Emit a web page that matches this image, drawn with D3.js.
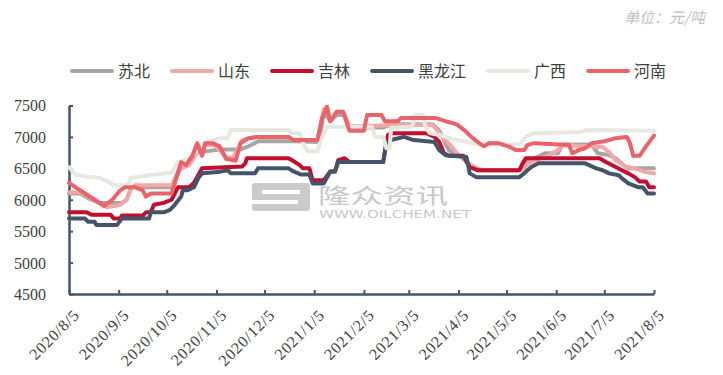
<!DOCTYPE html>
<html>
  <head>
    <meta charset="utf-8" />
    <style>
      body {
        margin: 0;
        background: #fff;
      }
    </style>
  </head>

  <body>
    <svg width="723" height="375"></svg>
  </body>

  <script src="https://d3js.org/d3.v7.min.js"></script>

  <script>
    let width = 723;
    let height = 375;
    let margin = { top: 105.5, right: 69, bottom: 81, left: 69 };

    // 每个地区的价格拐点 [日期, 元/吨]
    let suBei = [
      ["2020-08-05", 6100], ["2020-08-12", 6100], ["2020-08-19", 6000], ["2020-08-24", 5950],
      ["2020-09-07", 5950], ["2020-09-10", 6000], ["2020-09-13", 6200], ["2020-10-08", 6200],
      ["2020-10-12", 6450], ["2020-10-17", 6550], ["2020-10-23", 6750], ["2020-11-07", 6800],
      ["2020-11-20", 6800], ["2020-11-25", 6850], ["2020-12-01", 6930], ["2020-12-22", 6930],
      ["2021-01-08", 6920], ["2021-01-11", 7400], ["2021-01-15", 7250], ["2021-01-19", 7350],
      ["2021-01-24", 7350], ["2021-01-27", 7150], ["2021-02-17", 7150], ["2021-02-22", 7200],
      ["2021-03-20", 7200], ["2021-03-24", 7100], ["2021-03-30", 6790], ["2021-04-06", 6700],
      ["2021-04-12", 6550], ["2021-04-17", 6470], ["2021-05-13", 6470], ["2021-05-18", 6600],
      ["2021-05-29", 6740], ["2021-06-06", 6740], ["2021-06-09", 6880], ["2021-06-27", 6880],
      ["2021-07-01", 6740], ["2021-07-08", 6710], ["2021-07-12", 6660], ["2021-07-18", 6530],
      ["2021-07-20", 6500], ["2021-08-05", 6500],
    ];

    let shanDong = [
      ["2020-08-05", 6120], ["2020-08-12", 6120], ["2020-08-17", 6050], ["2020-08-22", 5970],
      ["2020-08-29", 5880], ["2020-09-06", 5920], ["2020-09-10", 6000], ["2020-09-12", 6150],
      ["2020-09-15", 6230], ["2020-10-08", 6230], ["2020-10-14", 6500], ["2020-10-19", 6550],
      ["2020-10-24", 6750], ["2020-10-28", 6870], ["2020-11-04", 6870], ["2020-11-07", 6790],
      ["2020-11-11", 6680], ["2020-11-15", 6660], ["2020-11-18", 6790], ["2020-11-21", 6950],
      ["2020-11-29", 7000], ["2020-12-20", 7000], ["2020-12-23", 6950], ["2021-01-07", 6950],
      ["2021-01-11", 7450], ["2021-01-13", 7450], ["2021-01-15", 7250], ["2021-01-19", 7400],
      ["2021-01-23", 7400], ["2021-01-27", 7170], ["2021-02-28", 7190], ["2021-03-20", 7190],
      ["2021-03-24", 7060], ["2021-03-28", 6950], ["2021-04-01", 6840], ["2021-04-04", 6740],
      ["2021-04-09", 6630], ["2021-04-14", 6530], ["2021-04-20", 6470], ["2021-05-14", 6470],
      ["2021-05-20", 6600], ["2021-05-31", 6700], ["2021-06-06", 6790], ["2021-06-09", 6870],
      ["2021-07-04", 6840], ["2021-07-08", 6760], ["2021-07-12", 6630], ["2021-07-18", 6530],
      ["2021-07-24", 6500], ["2021-07-31", 6440], ["2021-08-05", 6420],
    ];

    let jiLin = [
      ["2020-08-05", 5800], ["2020-08-16", 5800], ["2020-08-19", 5760], ["2020-08-31", 5760],
      ["2020-09-02", 5700], ["2020-09-06", 5700], ["2020-09-07", 5750], ["2020-09-20", 5750],
      ["2020-09-22", 5800], ["2020-09-25", 5800], ["2020-09-27", 5920], ["2020-10-03", 5950],
      ["2020-10-08", 6000], ["2020-10-12", 6200], ["2020-10-19", 6200], ["2020-10-22", 6270],
      ["2020-10-27", 6500], ["2020-11-21", 6530], ["2020-11-23", 6580], ["2020-11-24", 6660],
      ["2020-12-20", 6660], ["2020-12-24", 6600], ["2020-12-27", 6550], ["2020-12-29", 6500],
      ["2021-01-02", 6500], ["2021-01-04", 6310], ["2021-01-11", 6310], ["2021-01-15", 6450],
      ["2021-01-18", 6450], ["2021-01-20", 6630], ["2021-01-24", 6660], ["2021-01-27", 6600],
      ["2021-02-17", 6600], ["2021-02-19", 6900], ["2021-02-20", 7030], ["2021-02-22", 7060],
      ["2021-03-16", 7060], ["2021-03-21", 7000], ["2021-03-24", 6920], ["2021-03-27", 6740],
      ["2021-03-30", 6700], ["2021-04-08", 6700], ["2021-04-12", 6520], ["2021-04-17", 6470],
      ["2021-05-13", 6470], ["2021-05-15", 6580], ["2021-05-17", 6660], ["2021-07-02", 6660],
      ["2021-07-06", 6600], ["2021-07-10", 6550], ["2021-07-16", 6470], ["2021-07-20", 6420],
      ["2021-07-24", 6360], ["2021-07-27", 6290], ["2021-07-31", 6290], ["2021-08-02", 6200],
      ["2021-08-05", 6200],
    ];

    let heiLongJiang = [
      ["2020-08-05", 5700], ["2020-08-15", 5700], ["2020-08-17", 5650], ["2020-08-21", 5650],
      ["2020-08-22", 5600], ["2020-09-04", 5600], ["2020-09-07", 5700], ["2020-09-24", 5700],
      ["2020-09-25", 5800], ["2020-10-03", 5800], ["2020-10-07", 5840], ["2020-10-10", 5920],
      ["2020-10-14", 6050], ["2020-10-15", 6150], ["2020-10-18", 6150], ["2020-10-22", 6200],
      ["2020-10-25", 6360], ["2020-10-27", 6420], ["2020-11-06", 6440], ["2020-11-12", 6470],
      ["2020-11-14", 6420], ["2020-11-29", 6420], ["2020-12-01", 6500], ["2020-12-20", 6500],
      ["2020-12-23", 6450], ["2020-12-28", 6400], ["2021-01-02", 6400], ["2021-01-04", 6260],
      ["2021-01-11", 6260], ["2021-01-15", 6450], ["2021-01-18", 6450], ["2021-01-20", 6600],
      ["2021-02-17", 6600], ["2021-02-19", 6900], ["2021-02-22", 6950], ["2021-03-02", 7000],
      ["2021-03-08", 6950], ["2021-03-21", 6920], ["2021-03-24", 6790], ["2021-03-28", 6710],
      ["2021-04-10", 6680], ["2021-04-12", 6420], ["2021-04-16", 6360], ["2021-05-13", 6360],
      ["2021-05-16", 6420], ["2021-05-18", 6470], ["2021-05-21", 6530], ["2021-05-25", 6580],
      ["2021-06-23", 6580], ["2021-06-30", 6500], ["2021-07-04", 6470], ["2021-07-08", 6420],
      ["2021-07-14", 6390], ["2021-07-16", 6340], ["2021-07-20", 6260], ["2021-07-26", 6200],
      ["2021-07-29", 6200], ["2021-08-01", 6100], ["2021-08-05", 6100],
    ];

    let guangXi = [
      ["2020-08-05", 6520], ["2020-08-09", 6400], ["2020-08-15", 6370], ["2020-08-24", 6350],
      ["2020-08-30", 6280], ["2020-09-02", 6230], ["2020-09-10", 6230], ["2020-09-13", 6350],
      ["2020-09-27", 6400], ["2020-10-08", 6430], ["2020-10-12", 6600], ["2020-10-19", 6660],
      ["2020-10-23", 6760], ["2020-10-28", 6900], ["2020-11-07", 6980], ["2020-11-12", 6980],
      ["2020-11-14", 7110], ["2020-12-20", 7110], ["2020-12-22", 7060], ["2020-12-27", 7060],
      ["2020-12-29", 6900], ["2021-01-01", 6770], ["2021-01-07", 6770], ["2021-01-09", 6950],
      ["2021-01-13", 7160], ["2021-02-10", 7160], ["2021-02-12", 7000], ["2021-02-17", 7000],
      ["2021-02-19", 6820], ["2021-02-21", 6820], ["2021-02-22", 7140], ["2021-03-07", 7160],
      ["2021-03-09", 7350], ["2021-03-14", 7350], ["2021-03-15", 7190], ["2021-03-18", 7060],
      ["2021-03-24", 7030], ["2021-04-04", 6950], ["2021-04-18", 6880], ["2021-05-13", 6880],
      ["2021-05-17", 7000], ["2021-05-22", 7060], ["2021-06-20", 7080], ["2021-06-24", 7110],
      ["2021-08-05", 7100],
    ];

    let heNan = [
      ["2020-08-05", 6270], ["2020-08-09", 6200], ["2020-08-15", 6100], ["2020-08-21", 6000],
      ["2020-08-27", 5900], ["2020-09-01", 6000], ["2020-09-06", 6150], ["2020-09-09", 6200],
      ["2020-09-15", 6200], ["2020-09-20", 6150], ["2020-09-22", 6050], ["2020-09-25", 6100],
      ["2020-10-08", 6100], ["2020-10-14", 6600], ["2020-10-17", 6550], ["2020-10-21", 6700],
      ["2020-10-24", 6900], ["2020-10-27", 6700], ["2020-10-29", 6900], ["2020-11-03", 6900],
      ["2020-11-07", 6850], ["2020-11-11", 6650], ["2020-11-17", 6620], ["2020-11-20", 6900],
      ["2020-11-25", 6980], ["2020-12-01", 7000], ["2020-12-20", 7000], ["2020-12-23", 6950],
      ["2021-01-07", 6950], ["2021-01-10", 7300], ["2021-01-13", 7480], ["2021-01-15", 7250],
      ["2021-01-19", 7400], ["2021-01-23", 7400], ["2021-01-27", 7100], ["2021-02-05", 7100],
      ["2021-02-07", 7350], ["2021-02-16", 7350], ["2021-02-18", 7250], ["2021-02-26", 7250],
      ["2021-02-28", 7300], ["2021-03-22", 7300], ["2021-03-28", 7250], ["2021-04-04", 7200],
      ["2021-04-09", 7100], ["2021-04-13", 7000], ["2021-04-18", 6900], ["2021-04-21", 6850],
      ["2021-04-24", 6900], ["2021-04-30", 6900], ["2021-05-07", 6840], ["2021-05-11", 6790],
      ["2021-05-16", 6790], ["2021-05-18", 6870], ["2021-05-22", 6900], ["2021-06-13", 6870],
      ["2021-06-15", 6740], ["2021-06-19", 6790], ["2021-06-23", 6820], ["2021-06-27", 6900],
      ["2021-07-05", 6930], ["2021-07-12", 6980], ["2021-07-19", 7000], ["2021-07-21", 6900],
      ["2021-07-23", 6700], ["2021-07-27", 6700], ["2021-07-31", 6850], ["2021-08-05", 7020],
    ];

    let seriesNames = ["苏北", "山东", "吉林", "黑龙江", "广西", "河南"];
    let seriesData = [suBei, shanDong, jiLin, heiLongJiang, guangXi, heNan];
    let colors = ["#a5a5a5", "#f2a8a7", "#c00f2f", "#44546a", "#e8e8e2", "#e8636a"];

    let yTicks = [4500, 5000, 5500, 6000, 6500, 7000, 7500];
    let xTickDates = [
      "2020-08-05", "2020-09-05", "2020-10-05", "2020-11-05", "2020-12-05", "2021-01-05",
      "2021-02-05", "2021-03-05", "2021-04-05", "2021-05-05", "2021-06-05", "2021-07-05",
      "2021-08-05",
    ];

    let parseDate = d3.timeParse("%Y-%m-%d");
    let axisColor = "#44546a";
    let serif = '"Liberation Serif", "Times New Roman", "DejaVu Serif", serif';
    let cjk = '"Noto Sans CJK SC", sans-serif';

    let svg = d3.select("svg");

    let x = d3
      .scaleTime()
      .domain([parseDate("2020-08-05"), parseDate("2021-08-05")])
      .range([margin.left, width - margin.right]);

    let y = d3
      .scaleLinear()
      .domain([4500, 7500])
      .range([height - margin.bottom, margin.top]);

    // watermark
    let wm = svg.append("g").attr("class", "watermark");
    wm.append("rect")
      .attr("x", 252).attr("y", 183).attr("width", 58).attr("height", 28)
      .attr("rx", 3).attr("fill", "#cbcbcb");
    wm.append("rect")
      .attr("x", 262).attr("y", 190).attr("width", 38).attr("height", 4)
      .attr("fill", "#fff");
    wm.append("rect")
      .attr("x", 252).attr("y", 200).attr("width", 46).attr("height", 4)
      .attr("fill", "#fff");
    wm.append("text")
      .attr("transform", "translate(318,203) scale(1.55,1)")
      .style("font-family", cjk)
      .style("font-size", "21px")
      .attr("fill", "#c8c8c8")
      .text("隆众资讯");
    wm.append("text")
      .attr("x", 319).attr("y", 218)
      .style("font-family", '"DejaVu Sans", sans-serif')
      .style("font-size", "10px")
      .attr("textLength", 152)
      .attr("lengthAdjust", "spacingAndGlyphs")
      .attr("fill", "#c8c8c8")
      .text("WWW.OILCHEM.NET");

    // y axis
    let yAxis = svg
      .append("g")
      .attr("class", "axis y")
      .attr("transform", `translate(${margin.left},0)`)
      .call(
        d3.axisLeft(y)
          .tickValues(yTicks)
          .tickFormat(d3.format("d"))
          .tickSize(-4)
          .tickSizeOuter(0)
          .tickPadding(23)
      );
    yAxis.select(".domain").attr("stroke", axisColor).attr("stroke-width", 2.5);
    yAxis.selectAll(".tick line").attr("stroke", axisColor).attr("stroke-width", 2);
    yAxis
      .selectAll(".tick text")
      .attr("dy", "0.34em")
      .style("font-family", serif)
      .style("font-size", "16px")
      .attr("fill", "#404040");

    // x axis
    let fmt = d3.timeFormat("%Y/%-m/%-d");
    let xAxis = svg
      .append("g")
      .attr("class", "axis x")
      .attr("transform", `translate(0,${height - margin.bottom})`)
      .call(
        d3.axisBottom(x)
          .tickValues(xTickDates.map(parseDate))
          .tickSize(-4)
          .tickSizeOuter(0)
          .tickFormat(fmt)
      );
    xAxis.select(".domain").attr("stroke", axisColor).attr("stroke-width", 2.5);
    xAxis.selectAll(".tick line").attr("stroke", axisColor).attr("stroke-width", 2);
    xAxis
      .selectAll(".tick text")
      .attr("text-anchor", "end")
      .attr("x", 0)
      .attr("y", 0)
      .attr("dy", "0.35em")
      .attr("transform", "translate(7,18) rotate(-45)")
      .style("font-family", serif)
      .style("font-size", "16px")
      .style("letter-spacing", "0.8px")
      .attr("fill", "#404040");

    // lines
    let line = d3
      .line()
      .x((d) => x(parseDate(d[0])))
      .y((d) => y(d[1]));

    svg
      .append("g")
      .selectAll("path")
      .data(seriesData)
      .join("path")
      .attr("d", (d) => line(d))
      .attr("fill", "none")
      .attr("stroke", (d, i) => colors[i])
      .attr("stroke-width", 4)
      .attr("stroke-linejoin", "round")
      .attr("stroke-linecap", "round");

    // legend
    let legend = svg.append("g").attr("class", "legend");
    let lx = 72;
    seriesNames.forEach((name, i) => {
      legend
        .append("line")
        .attr("x1", lx).attr("x2", lx + 40)
        .attr("y1", 71).attr("y2", 71)
        .attr("stroke", colors[i])
        .attr("stroke-width", 4)
        .attr("stroke-linecap", "round");
      let t = legend
        .append("text")
        .attr("x", lx + 46)
        .attr("y", 71)
        .attr("dy", "0.36em")
        .style("font-family", cjk)
        .style("font-size", "16px")
        .attr("fill", "#404040")
        .text(name);
      lx += 46 + t.node().getComputedTextLength() + 22;
    });

    // unit
    svg
      .append("text")
      .attr("x", 705)
      .attr("y", 23)
      .attr("text-anchor", "end")
      .style("font-family", cjk)
      .style("font-size", "15px")
      .style("font-style", "italic")
      .attr("fill", "#bfbfbf")
      .text("单位：元/吨");
  </script>
</html>
